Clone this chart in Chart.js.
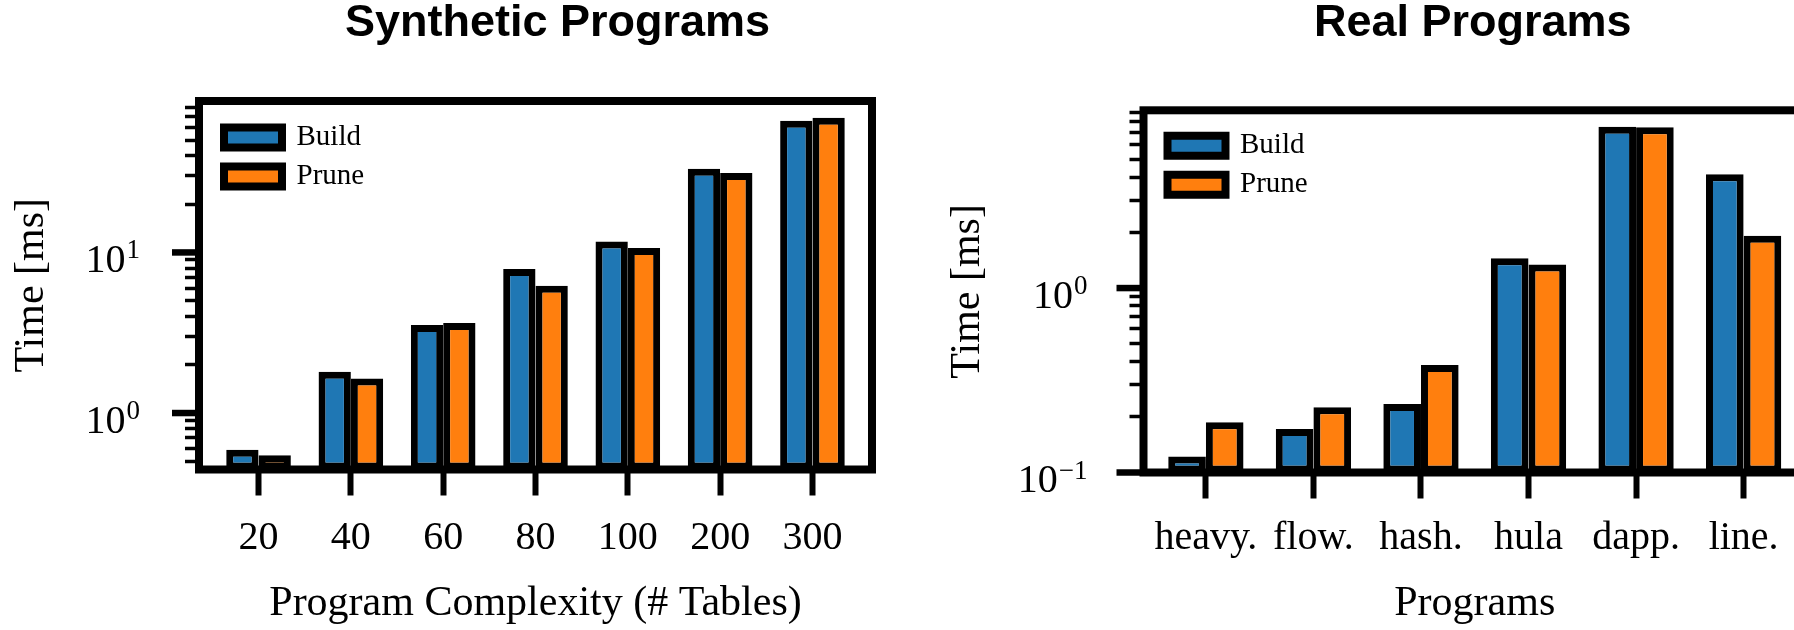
<!DOCTYPE html>
<html>
<head>
<meta charset="utf-8">
<title>Build vs Prune time</title>
<script src="https://cdn.jsdelivr.net/npm/chart.js@4.4.1/dist/chart.umd.min.js"></script>
<style>
    body { margin: 0; background: #fff; overflow: hidden; }
    #wrap { position: relative; width: 1794px; height: 630px; overflow: hidden; }
    canvas { position: absolute; top: 0; }
</style>
</head>
<body>
<div id="wrap">
    <canvas id="synthChart" width="897" height="630" style="left:0"></canvas>
    <canvas id="realChart" width="934" height="630" style="left:897px"></canvas>
</div>
<script>
// Synthetic programs (left)
var synthCategories = ['20', '40', '60', '80', '100', '200', '300'];
var synthBuild = [0.59, 1.81, 3.53, 7.9, 11.7, 33.2, 66];
var synthPrune = [0.545, 1.64, 3.63, 6.2, 10.65, 31.2, 69];
var synthMajorTicks = [1, 10];
var synthTickExps = ['0', '1'];

// Real programs (right)
var realCategories = ['heavy.', 'flow.', 'hash.', 'hula', 'dapp.', 'line.'];
var realBuild = [0.122, 0.172, 0.235, 1.45, 7.5, 4.14];
var realPrune = [0.187, 0.226, 0.383, 1.34, 7.45, 1.92];
var realMajorTicks = [0.1, 1];
var realTickExps = ['\u22121', '0'];

var BLUE = '#1f77b4';
var ORANGE = '#ff7f0e';
var SERIF = '"Liberation Serif", "Times New Roman", serif';

Chart.defaults.color = '#000';
Chart.defaults.font.family = SERIF;

// log minor ticks (2..9 x 10^n) inside the axis range
function minorTicks(min, max) {
    var ticks = [];
    for (var e = Math.floor(Math.log10(min)); e <= Math.ceil(Math.log10(max)); e++) {
        for (var m = 2; m <= 9; m++) {
            var v = m * Math.pow(10, e);
            if (v >= min && v <= max) ticks.push(v);
        }
    }
    return ticks;
}

function makeChart(id, o) {

    // box frame, long major ticks and 10^n labels, title/legend placement
    var framePlugin = {
        id: 'frame',
        afterLayout: function (chart) {
            var area = chart.chartArea;
            chart.titleBlock.left = area.left + o.titleDx;
            chart.titleBlock.right = area.right + o.titleDx;
            chart.legend.left = area.left + o.legendDx;
            chart.legend.top = area.top + o.legendDy;
        },
        afterDatasetsDraw: function (chart) {
            var ctx = chart.ctx;
            var area = chart.chartArea;
            var yScale = chart.scales.y;
            ctx.save();
            ctx.strokeStyle = '#000';
            ctx.fillStyle = '#000';
            ctx.lineWidth = 8;
            ctx.strokeRect(area.left, area.top, area.right - area.left, area.bottom - area.top);

            ctx.lineWidth = 6.5;
            o.majorTicks.forEach(function (value, i) {
                var py = yScale.getPixelForValue(value);
                ctx.beginPath();
                ctx.moveTo(area.left - 27, py);
                ctx.lineTo(area.left, py);
                ctx.stroke();

                var right = area.left - o.labelGap;
                ctx.textBaseline = 'alphabetic';
                ctx.font = '27px ' + SERIF;
                var expWidth = ctx.measureText(o.tickExps[i]).width;
                ctx.textAlign = 'left';
                ctx.fillText(o.tickExps[i], right - expWidth, py + 6);
                ctx.font = '40px ' + SERIF;
                ctx.textAlign = 'right';
                ctx.fillText('10', right - expWidth - 1, py + 19.5);
            });
            ctx.restore();
        }
    };

    var ctx = document.getElementById(id).getContext('2d');

    return new Chart(ctx, {
        type: 'bar',
        data: {
            datasets: [{
                label: 'Build',
                data: o.categories.map(function (c, i) { return { x: i, y: o.build[i] }; }),
                backgroundColor: BLUE,
                borderColor: '#000',
                borderWidth: 7,
                borderSkipped: false,
                categoryPercentage: 0.7,
                barPercentage: 1.0
            },
            {
                label: 'Prune',
                data: o.categories.map(function (c, i) { return { x: i, y: o.prune[i] }; }),
                backgroundColor: ORANGE,
                borderColor: '#000',
                borderWidth: 7,
                borderSkipped: false,
                categoryPercentage: 0.7,
                barPercentage: 1.0
            }]
        },
        options: {
            responsive: false,
            devicePixelRatio: 1,
            animation: false,
            layout: { padding: { left: 0, right: 25, top: 0, bottom: 0 } },
            plugins: {
                title: {
                    display: true,
                    text: o.title,
                    color: '#000',
                    font: { family: '"Liberation Sans", Arial, sans-serif', weight: 'bold', size: 45, lineHeight: 1 },
                    padding: { top: 1.5, bottom: o.titleGap }
                },
                legend: {
                    position: 'chartArea',
                    align: 'start',
                    labels: {
                        color: '#000',
                        font: { family: SERIF, size: 29 },
                        boxWidth: 58,
                        boxHeight: 20,
                        padding: 10,
                        generateLabels: function (chart) {
                            return Chart.defaults.plugins.legend.labels.generateLabels(chart).map(function (item) {
                                item.lineWidth = 8;
                                return item;
                            });
                        }
                    }
                },
                tooltip: { enabled: false }
            },
            scales: {
                x: {
                    type: 'linear',
                    min: o.xMin,
                    max: o.xMax,
                    offset: false,
                    afterBuildTicks: function (scale) {
                        scale.ticks = o.categories.map(function (c, i) { return { value: i }; });
                    },
                    afterFit: function (scale) { scale.height = o.xAxisHeight; },
                    ticks: {
                        autoSkip: false,
                        maxRotation: 0,
                        padding: o.xTickPad,
                        color: '#000',
                        font: { family: SERIF, size: 40 },
                        callback: function (value) { return o.categories[value]; }
                    },
                    grid: { offset: false, drawOnChartArea: false, tickLength: 26, tickWidth: 6, tickColor: '#000' },
                    border: { display: false },
                    title: {
                        display: true,
                        text: o.xTitle,
                        color: '#000',
                        font: { family: SERIF, size: 42 },
                        padding: { top: 0, bottom: 1 }
                    }
                },
                y: {
                    type: 'logarithmic',
                    min: o.yMin,
                    max: o.yMax,
                    afterBuildTicks: function (scale) {
                        scale.ticks = minorTicks(o.yMin, o.yMax).map(function (v) { return { value: v }; });
                    },
                    afterFit: function (scale) { scale.width = o.yAxisWidth; },
                    ticks: { callback: function () { return ''; } },
                    grid: { drawOnChartArea: false, tickLength: 14, tickWidth: 3.5, tickColor: '#000' },
                    border: { display: false },
                    title: {
                        display: true,
                        text: 'Time [ms]',
                        color: '#000',
                        font: { family: SERIF, size: 42 },
                        padding: { top: o.yTitlePad, bottom: 0 }
                    }
                }
            }
        },
        plugins: [framePlugin]
    });
}

makeChart('synthChart', {
    title: 'Synthetic Programs',
    xTitle: 'Program Complexity (# Tables)',
    categories: synthCategories,
    build: synthBuild,
    prune: synthPrune,
    majorTicks: synthMajorTicks,
    tickExps: synthTickExps,
    yMin: 0.445,
    yMax: 87.7,
    xMin: -0.645,
    xMax: 6.645,
    yAxisWidth: 199,
    xAxisHeight: 160.5,
    titleGap: 54.5,
    titleDx: 22,
    yTitlePad: 6.5,
    xTickPad: 18.5,
    labelGap: 59,
    legendDx: 15,
    legendDy: 12
});

makeChart('realChart', {
    title: 'Real Programs',
    xTitle: 'Programs',
    categories: realCategories,
    build: realBuild,
    prune: realPrune,
    majorTicks: realMajorTicks,
    tickExps: realTickExps,
    yMin: 0.1,
    yMax: 9.2,
    xMin: -0.58,
    xMax: 5.58,
    yAxisWidth: 246.5,
    xAxisHeight: 157.5,
    titleGap: 63.8,
    titleDx: -2,
    yTitlePad: 45.5,
    xTickPad: 15.5,
    labelGap: 56,
    legendDx: 14,
    legendDy: 11
});
</script>
</body>
</html>
